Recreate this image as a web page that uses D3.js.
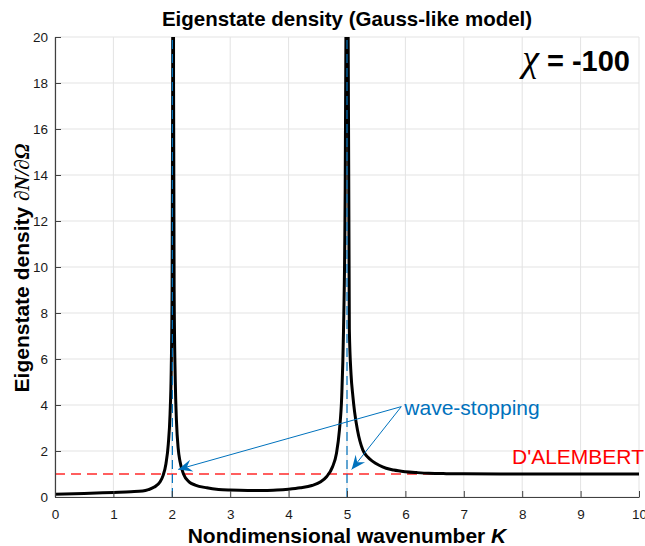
<!DOCTYPE html>
<html>
<head>
<meta charset="utf-8">
<script src="https://cdn.jsdelivr.net/npm/d3@7"></script>
<style>
    body { margin: 0; background: #fff; }
    svg { display: block; font-family: "Liberation Sans", Arial, Helvetica, sans-serif; }
</style>
</head>
<body>
<svg id="chart" width="645" height="546"></svg>
<script>

// wavenumber K and eigenstate density
var kValues = [0, 0.5, 1.0, 1.3, 1.5, 1.6, 1.7, 1.8, 1.85, 1.9, 1.94, 1.97, 1.99, 2.005, 2.015, 2.02,
    2.025, 2.03, 2.04, 2.06, 2.08, 2.11, 2.14, 2.2, 2.3, 2.4, 2.6, 2.8, 3.0, 3.3, 3.6, 3.8, 4.0, 4.2,
    4.4, 4.55, 4.65, 4.75, 4.82, 4.87, 4.91, 4.94, 4.965, 4.985, 4.995, 5.005, 5.02, 5.04, 5.07, 5.10,
    5.13, 5.18, 5.27, 5.35, 5.44, 5.55, 5.67, 5.8, 6.0, 6.2, 6.4, 6.7, 7, 8, 9, 10];
var densityValues = [0.12, 0.15, 0.2, 0.23, 0.26, 0.32, 0.43, 0.66, 0.93, 1.45, 2.3, 3.6, 5.5, 9, 18, 40,
    40, 18, 9, 5, 3.3, 2.1, 1.55, 1.0, 0.65, 0.52, 0.4, 0.33, 0.3, 0.28, 0.28, 0.3, 0.34, 0.4,
    0.5, 0.66, 0.88, 1.3, 1.9, 2.9, 4.4, 7.2, 12, 22, 50, 50, 20, 7.3, 5.3, 4.4,
    3.7, 2.9, 2.05, 1.75, 1.55, 1.38, 1.25, 1.17, 1.1, 1.06, 1.03, 1.015, 1.01, 1.0, 1.0, 1.0];

var xTicks = [0, 1, 2, 3, 4, 5, 6, 7, 8, 9, 10];
var yTicks = [0, 2, 4, 6, 8, 10, 12, 14, 16, 18, 20];

var dalembertLevel = 1;          // red reference line
var stoppingK = [2.01, 5.0];     // blue dashed verticals
var arrowFrom = [5.93, 3.93];    // where the two arrows start (K, density)
var arrowTips = [[2.11, 1.2], [5.08, 1.2]];

var chiLabel = "-100";


DensityChart = function(_parentElement) {
    this.parentElement = _parentElement;
    this.margin = { left: 55, right: 6, top: 37, bottom: 49 };
    this.width = 645 - this.margin.left - this.margin.right;
    this.height = 546 - this.margin.top - this.margin.bottom;
    this.initVis();
}

DensityChart.prototype.initVis = function() {
    var vis = this;

    vis.svg = d3.select("#" + vis.parentElement);
    vis.g = vis.svg.append("g")
        .attr("transform", "translate(" + vis.margin.left + "," + vis.margin.top + ")");

    vis.xScale = d3.scaleLinear().domain([0, 10]).range([0, vis.width]);
    vis.yScale = d3.scaleLinear().domain([0, 20]).range([vis.height, 0]);

    vis.data = kValues.map(function(k, i) { return { k: k, v: densityValues[i] }; });

    vis.svg.append("defs").append("clipPath").attr("id", "plot-clip")
        .append("rect")
        .attr("x", 0).attr("y", 0)
        .attr("width", vis.width).attr("height", vis.height);

    vis.updateVis();
}

// arrow head like matlab's "vback2"
DensityChart.prototype.arrowHead = function(x0, y0, x1, y1) {
    var len = 14, half = 6, notch = 9;
    var dx = x1 - x0, dy = y1 - y0;
    var d = Math.sqrt(dx * dx + dy * dy);
    var ux = dx / d, uy = dy / d;
    var px = -uy, py = ux;
    var bx = x1 - ux * len, by = y1 - uy * len;
    var nx = x1 - ux * notch, ny = y1 - uy * notch;
    return "M" + x1 + "," + y1 +
        "L" + (bx + px * half) + "," + (by + py * half) +
        "L" + nx + "," + ny +
        "L" + (bx - px * half) + "," + (by - py * half) + "Z";
}

DensityChart.prototype.updateVis = function() {
    var vis = this;
    var g = vis.g;

    // grid
    g.append("g").selectAll("line.gx")
        .data(xTicks).enter().append("line")
        .attr("x1", function(d) { return vis.xScale(d); })
        .attr("x2", function(d) { return vis.xScale(d); })
        .attr("y1", 0).attr("y2", vis.height)
        .attr("stroke", "#e3e3e3").attr("stroke-width", 1);
    g.append("g").selectAll("line.gy")
        .data(yTicks).enter().append("line")
        .attr("y1", function(d) { return vis.yScale(d); })
        .attr("y2", function(d) { return vis.yScale(d); })
        .attr("x1", 0).attr("x2", vis.width)
        .attr("stroke", "#e3e3e3").attr("stroke-width", 1);

    var plot = g.append("g").attr("clip-path", "url(#plot-clip)");

    // d'Alembert level
    plot.append("line")
        .attr("x1", 0).attr("x2", vis.width)
        .attr("y1", vis.yScale(dalembertLevel)).attr("y2", vis.yScale(dalembertLevel))
        .attr("stroke", "#ff2a2a").attr("stroke-width", 1.6)
        .attr("stroke-dasharray", "10,6");

    var line = d3.line()
        .x(function(d) { return vis.xScale(d.k); })
        .y(function(d) { return vis.yScale(d.v); })
        .curve(d3.curveMonotoneX);

    plot.append("path")
        .datum(vis.data)
        .attr("d", line)
        .attr("fill", "none")
        .attr("stroke", "#000")
        .attr("stroke-width", 3)
        .attr("stroke-linejoin", "round");

    plot.selectAll("line.stop")
        .data(stoppingK).enter().append("line")
        .attr("x1", function(d) { return vis.xScale(d); })
        .attr("x2", function(d) { return vis.xScale(d); })
        .attr("y1", vis.height).attr("y2", 0)
        .attr("stroke", "#0072bd").attr("stroke-width", 1.2)
        .attr("stroke-dasharray", "9,5");

    // axes
    var xAxis = d3.axisBottom(vis.xScale).tickValues(xTicks).tickSizeInner(-6).tickSizeOuter(0).tickPadding(12);
    var yAxis = d3.axisLeft(vis.yScale).tickValues(yTicks).tickSizeInner(-6).tickSizeOuter(0).tickPadding(7);

    var gx = g.append("g")
        .attr("transform", "translate(0," + vis.height + ")")
        .call(xAxis);
    var gy = g.append("g").call(yAxis);

    [gx, gy].forEach(function(a) {
        a.select(".domain").attr("stroke", "#404040").attr("stroke-width", 1.2);
        a.selectAll(".tick line").attr("stroke", "#404040");
        a.selectAll(".tick text")
            .attr("fill", "#1a1a1a")
            .style("font-family", "Liberation Sans, Arial, sans-serif")
            .style("font-size", "13.5px");
    });

    // wave-stopping annotation
    var sx = vis.xScale(arrowFrom[0]), sy = vis.yScale(arrowFrom[1]);
    arrowTips.forEach(function(t) {
        var tx = vis.xScale(t[0]), ty = vis.yScale(t[1]);
        g.append("line")
            .attr("x1", sx).attr("y1", sy).attr("x2", tx).attr("y2", ty)
            .attr("stroke", "#0072bd").attr("stroke-width", 1);
        g.append("path")
            .attr("d", vis.arrowHead(sx, sy, tx, ty))
            .attr("fill", "#0072bd");
    });

    g.append("text")
        .attr("x", sx + 3).attr("y", sy + 8)
        .attr("fill", "#0072bd")
        .style("font-size", "21px")
        .text("wave-stopping");

    // texts outside the plot
    vis.svg.append("text")
        .attr("x", 512).attr("y", 464)
        .attr("fill", "#ff0000")
        .style("font-size", "21px")
        .text("D'ALEMBERT");

    vis.svg.append("text")
        .attr("x", 347).attr("y", 26)
        .attr("text-anchor", "middle")
        .style("font-size", "20.5px").style("font-weight", "bold")
        .text("Eigenstate density (Gauss-like model)");

    var xl = vis.svg.append("text")
        .attr("x", 347).attr("y", 543)
        .attr("text-anchor", "middle")
        .style("font-size", "21px").style("font-weight", "bold");
    xl.append("tspan").text("Nondimensional wavenumber ");
    xl.append("tspan").style("font-style", "italic").text("K");

    var yl = vis.svg.append("text")
        .attr("transform", "translate(29,268) rotate(-90)")
        .attr("text-anchor", "middle")
        .style("font-size", "21px").style("font-weight", "bold");
    yl.append("tspan").text("Eigenstate density ");
    yl.append("tspan")
        .style("font-family", "Liberation Serif, Times New Roman, serif")
        .style("font-style", "italic")
        .text("\u2202N/\u2202\u03A9");

    var chi = vis.svg.append("text")
        .attr("x", 630).attr("y", 71)
        .attr("text-anchor", "end")
        .style("font-size", "29px").style("font-weight", "bold");
    chi.append("tspan")
        .style("font-family", "Liberation Serif, Times New Roman, serif")
        .style("font-style", "italic").style("font-weight", "normal")
        .style("font-size", "38px")
        .text("\u03C7");
    chi.append("tspan").text(" = " + chiLabel);
}

new DensityChart("chart");
</script>
</body>
</html>
